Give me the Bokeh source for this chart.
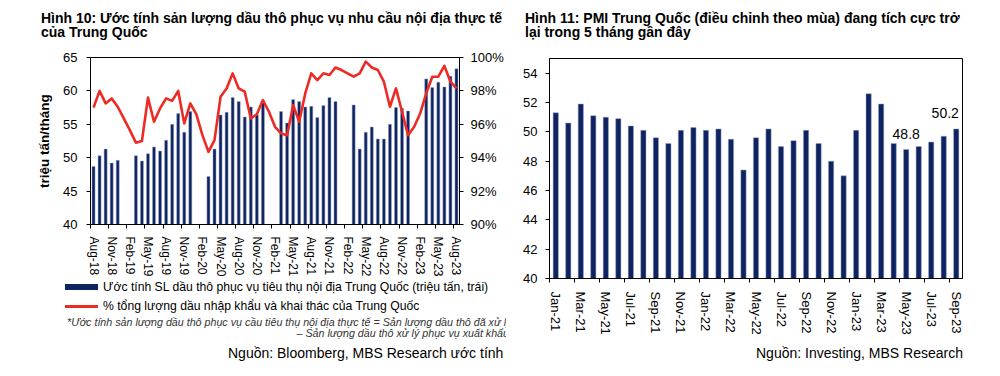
from bokeh.plotting import figure
from bokeh.models import Range1d, LinearAxis, FixedTicker, ColumnDataSource, Div
from bokeh.layouts import row, column
from bokeh.embed import file_html
from bokeh.resources import INLINE

FONT = "Liberation Sans"
CSS_FONT = "'Liberation Sans', Arial, sans-serif"
NAVY = "#0f2360"
RED = "#ee2a24"

MON = ["Jan", "Feb", "Mar", "Apr", "May", "Jun", "Jul", "Aug", "Sep", "Oct", "Nov", "Dec"]


def month_labels(y0, m0, n):
    out = []
    y, m = y0, m0
    for _ in range(n):
        out.append(f"{MON[m - 1]}-{y % 100:02d}")
        m += 1
        if m > 12:
            m = 1
            y += 1
    return out


# ---------------- data: chart 1 (Aug-18 .. Aug-23) ----------------
months1 = month_labels(2018, 8, 61)
nan = float("nan")
crude_mt = [48.7, 50.3, 51.3, 49.2, 49.6, nan, nan, 50.3, 49.5, 50.6,
            51.6, 51.0, 52.6, 55.0, 56.6, 53.8, 56.9, nan, nan, 47.2,
            51.3, 56.4, 56.8, 59.0, 58.4, 56.1, 57.6, 56.4, 58.5, nan,
            nan, 56.9, 55.2, 58.7, 58.4, 57.6, 57.7, 56.0, 57.8, 59.0,
            58.4, nan, nan, 57.9, 51.3, 53.8, 54.6, 52.8, 52.8, 55.0,
            57.5, 57.4, 57.0, nan, nan, 61.8, 60.5, 61.3, 60.6, 62.2,
            63.3]
share_pct = [97.0, 98.0, 97.25, 97.55, 97.05, 96.35, 95.65, 94.9, 95.0, 97.6,
             96.15, 96.95, 97.55, 97.4, 98.0, 96.05, 97.25, 96.6, 95.35, 94.35,
             95.05, 97.65, 98.15, 99.05, 98.15, 97.95, 96.35, 96.6, 97.45, 96.75,
             95.85, 95.45, 95.35, 97.15, 96.15, 97.85, 99.05, 98.65, 99.05, 98.95,
             99.4, 99.25, 99.05, 98.85, 99.05, 99.75, 99.4, 99.25, 98.55, 97.05,
             98.15, 96.75, 95.35, 95.85, 96.65, 97.85, 98.85, 98.85, 99.5, 98.55,
             98.15]
left_ticks1 = [40, 45, 50, 55, 60, 65]
right_ticks1 = [90, 92, 94, 96, 98, 100]

# ---------------- data: chart 2 (Jan-21 .. Sep-23) ----------------
months2 = month_labels(2021, 1, 33)
pmi = [51.3, 50.6, 51.9, 51.1, 51.0, 50.9, 50.4, 50.1, 49.6, 49.2,
       50.1, 50.3, 50.1, 50.2, 49.5, 47.4, 49.6, 50.2, 49.0, 49.4,
       50.1, 49.2, 48.0, 47.0, 50.1, 52.6, 51.9, 49.2, 48.8, 49.0,
       49.3, 49.7, 50.2]
pmi_ticks = [40, 42, 44, 46, 48, 50, 52, 54]
labelled_months = ["May-23", "Sep-23"]

# ---------------- texts ----------------
title1 = ["Hình 10: Ước tính sản lượng dầu thô phục vụ nhu cầu nội địa thực tế",
          "của Trung Quốc"]
title2 = ["Hình 11: PMI Trung Quốc (điều chỉnh theo mùa) đang tích cực trở",
          "lại trong 5 tháng gần đây"]
legend1 = ["Ước tính SL dầu thô phục vụ tiêu thụ nội địa Trung Quốc (triệu tấn, trái)",
           "% tổng lượng dầu nhập khẩu và khai thác của Trung Quốc"]
note1 = ["*Ước tính sản lượng dầu thô phục vụ cầu tiêu thụ nội địa thực tế = Sản lượng dầu thô đã xử lý",
         "– Sản lượng dầu thô xử lý phục vụ xuất khẩu"]
source1 = "Nguồn: Bloomberg, MBS Research ước tính"
source2 = "Nguồn: Investing, MBS Research"

ASC = 0.905  # font ascent ratio (Liberation Sans)


def line_html(text, size, baseline, left=None, right=None, weight="normal",
              style="normal", color="black"):
    top = baseline - ASC * size
    pos = f"left:{left}px;" if left is not None else f"right:{right}px;text-align:right;"
    return (f'<div style="position:absolute;{pos}top:{top:.1f}px;font-size:{size}px;'
            f'line-height:{1.117 * size:.2f}px;font-weight:{weight};font-style:{style};'
            f'color:{color};white-space:nowrap;">{text}</div>')


def box_html(left, top, w, h, color):
    return (f'<div style="position:absolute;left:{left}px;top:{top}px;width:{w}px;'
            f'height:{h}px;background:{color};"></div>')


def make_div(parts, w, h):
    html = (f'<div style="position:relative;width:{w}px;height:{h}px;overflow:hidden;'
            f'font-family:{CSS_FONT};">' + "".join(parts) + "</div>")
    return Div(text=html, width=w, height=h, margin=0)


def style_axis(ax, size):
    ax.axis_line_color = "black"
    ax.major_tick_line_color = "black"
    ax.minor_tick_line_color = "black"
    ax.major_label_text_font = FONT
    ax.major_label_text_font_size = f"{size}px"
    ax.major_label_text_color = "black"


# ================= left panel =================
W1 = 506
HEAD = 44
Y_P1 = HEAD               # top of chart figure (page px)
FT1, FB1 = 57, 224        # frame top / bottom (page px)
P1_BOTTOM = 280
x1 = list(range(len(months1)))
src1 = ColumnDataSource(dict(x=x1, crude=crude_mt, pct=share_pct))

p1 = figure(width=W1, height=P1_BOTTOM - Y_P1, x_range=Range1d(-0.5, len(months1) - 0.5),
            y_range=Range1d(left_ticks1[0], left_ticks1[-1]),
            output_backend="svg", toolbar_location=None, margin=0,
            min_border_left=90, min_border_right=W1 - 460,
            min_border_top=FT1 - Y_P1, min_border_bottom=P1_BOTTOM - FB1)
p1.extra_y_ranges = {"pct": Range1d(right_ticks1[0], right_ticks1[-1])}
p1.xgrid.visible = False
p1.ygrid.visible = False
p1.outline_line_color = "black"
p1.outline_line_alpha = 1
p1.background_fill_color = "white"
p1.border_fill_color = "white"

p1.vbar(x="x", top="crude", width=0.5, bottom=left_ticks1[0], source=src1,
        fill_color=NAVY, line_color="#9aa8c8", line_width=0.5)
p1.line(x="x", y="pct", source=src1, y_range_name="pct",
        line_color=RED, line_width=2.6, line_join="round")

p1.yaxis.ticker = FixedTicker(ticks=left_ticks1)
p1.yaxis.major_tick_out = 4
p1.yaxis.major_tick_in = 0
p1.yaxis.minor_tick_out = 0
p1.yaxis.minor_tick_in = 0
p1.yaxis.major_label_standoff = 9
p1.yaxis.axis_label = "triệu tấn/tháng"
p1.yaxis.axis_label_text_font = FONT
p1.yaxis.axis_label_text_font_size = "13.5px"
p1.yaxis.axis_label_text_font_style = "bold"
p1.yaxis.axis_label_text_color = "black"
p1.yaxis.axis_label_standoff = 8
style_axis(p1.yaxis[0], 13)

rax = LinearAxis(y_range_name="pct", ticker=FixedTicker(ticks=right_ticks1),
                 major_label_overrides={t: f"{t}%" for t in right_ticks1})
rax.major_tick_out = 4
rax.major_tick_in = 0
rax.minor_tick_out = 0
rax.minor_tick_in = 0
rax.major_label_standoff = 7
style_axis(rax, 13)
p1.add_layout(rax, "right")

xt1 = list(range(0, len(months1), 3))
p1.xaxis.ticker = FixedTicker(ticks=xt1, minor_ticks=[t - 0.5 for t in xt1])
p1.xaxis.major_label_overrides = {i: months1[i] for i in xt1}
p1.xaxis.major_label_orientation = "vertical"
p1.xaxis.major_tick_out = 0
p1.xaxis.major_tick_in = 0
p1.xaxis.minor_tick_out = 4
p1.xaxis.minor_tick_in = 0
p1.xaxis.major_label_standoff = 8
style_axis(p1.xaxis[0], 12)

head1 = make_div([
    line_html(title1[0], 14, 24, left=41, weight="bold"),
    line_html(title1[1], 14, 38, left=41, weight="bold"),
], W1, HEAD)

F1 = P1_BOTTOM  # page y of footer top
foot1 = make_div([
    box_html(65, 284 - F1, 33, 6, NAVY),
    line_html(legend1[0], 12.2, 291.5 - F1, left=103),
    box_html(65, 304.5 - F1, 33, 3, RED),
    line_html(legend1[1], 12.2, 310.5 - F1, left=103),
    line_html(note1[0], 10.7, 326.5 - F1, left=67, style="italic", color="#333333"),
    line_html(note1[1], 10.7, 338 - F1, right=-3, style="italic", color="#333333"),
    line_html(source1, 14, 359 - F1, left=228),
], W1, 376 - F1)

# ================= right panel =================
W2 = 1000 - W1
X0 = W1
FT2, FB2 = 58, 278
P2_BOTTOM = 337
x2 = list(range(len(months2)))
src2 = ColumnDataSource(dict(x=x2, pmi=pmi))

p2 = figure(width=W2, height=P2_BOTTOM - HEAD, x_range=Range1d(-0.5, len(months2) - 0.5),
            y_range=Range1d(40, 55), output_backend="svg", toolbar_location=None, margin=0,
            min_border_left=549 - X0, min_border_right=1000 - 962,
            min_border_top=FT2 - HEAD, min_border_bottom=P2_BOTTOM - FB2)
p2.xgrid.visible = False
p2.ygrid.visible = False
p2.outline_line_color = "black"
p2.outline_line_alpha = 1
p2.background_fill_color = "white"
p2.border_fill_color = "white"

p2.vbar(x="x", top="pmi", width=0.42, bottom=40, source=src2,
        fill_color=NAVY, line_color="#9aa8c8", line_width=0.5)

lab_x = [months2.index(m) for m in labelled_months]
lab_y = [pmi[i] for i in lab_x]
src_lab = ColumnDataSource(dict(x=lab_x, y=lab_y, t=[f"{v:.1f}" for v in lab_y],
                                xo=[0, -11], yo=[-10, -11]))
p2.text(x="x", y="y", text="t", x_offset="xo", y_offset="yo", source=src_lab,
        text_align="center", text_baseline="bottom", text_font_size="14px",
        text_font={"value": FONT}, text_color="black")

p2.yaxis.ticker = FixedTicker(ticks=pmi_ticks)
p2.yaxis.major_tick_out = 4
p2.yaxis.major_tick_in = 0
p2.yaxis.minor_tick_out = 0
p2.yaxis.minor_tick_in = 0
p2.yaxis.major_label_standoff = 8
style_axis(p2.yaxis[0], 13)

xt2 = list(range(0, len(months2), 2))
p2.xaxis.ticker = FixedTicker(ticks=xt2, minor_ticks=[t - 0.5 for t in xt2])
p2.xaxis.major_label_overrides = {i: months2[i] for i in xt2}
p2.xaxis.major_label_orientation = "vertical"
p2.xaxis.major_tick_out = 0
p2.xaxis.major_tick_in = 0
p2.xaxis.minor_tick_out = 4
p2.xaxis.minor_tick_in = 0
p2.xaxis.major_label_standoff = 9
style_axis(p2.xaxis[0], 13)

head2 = make_div([
    line_html(title2[0], 14, 24, left=525 - X0, weight="bold"),
    line_html(title2[1], 14, 38, left=525 - X0, weight="bold"),
], W2, HEAD)

F2 = P2_BOTTOM
foot2 = make_div([
    line_html(source2, 14, 359 - F2, right=1000 - 963),
], W2, 376 - F2)

layout = row(column(head1, p1, foot1, spacing=0), column(head2, p2, foot2, spacing=0),
             spacing=0)
open("out.html", "w").write(file_html(layout, INLINE))
